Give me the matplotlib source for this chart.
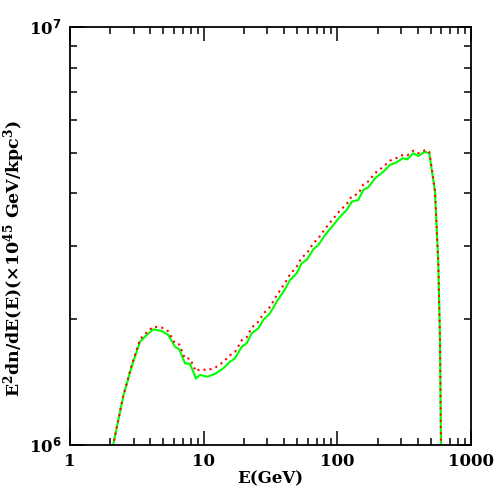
import matplotlib
matplotlib.use('Agg')
import matplotlib.pyplot as plt
from matplotlib.ticker import LogLocator, NullFormatter, FixedLocator, FixedFormatter

plt.rcParams['font.family'] = 'DejaVu Serif'
plt.rcParams['font.weight'] = 'bold'
plt.rcParams['mathtext.fontset'] = 'custom'
plt.rcParams['mathtext.rm'] = 'DejaVu Serif:bold'
plt.rcParams['mathtext.default'] = 'rm'

# energy grid (GeV)
energy = [2.09, 2.50, 2.89, 3.34, 3.75, 4.20, 4.85, 5.44, 6.10, 6.57, 7.25, 7.90,
          8.76, 9.39, 10.65, 12.15, 14.03, 15.74, 17.16, 19.26, 20.98, 22.87,
          25.63, 27.93, 31.35, 35.19, 40.60, 44.25, 49.66, 54.12, 58.98, 66.11,
          72.05, 80.85, 93.28, 104.7, 117.5, 128.1, 143.5, 156.4, 170.5, 191.3,
          220.8, 247.7, 278.0, 308.3, 333.7, 370.1, 403.4, 452.8, 487.5, 537.8,
          569.3, 586.2, 596.4]

# E^2 dn/dE in units of 1e45 GeV/kpc^3 (x1e6)
green = [0.99, 1.305, 1.539, 1.767, 1.833, 1.891, 1.874, 1.833, 1.718, 1.694,
         1.568, 1.563, 1.444, 1.471, 1.457, 1.479, 1.526, 1.582, 1.612, 1.718,
         1.751, 1.850, 1.902, 1.991, 2.066, 2.202, 2.358, 2.481, 2.575, 2.721,
         2.771, 2.939, 3.009, 3.178, 3.359, 3.517, 3.650, 3.820, 3.856, 4.074,
         4.135, 4.346, 4.507, 4.677, 4.746, 4.852, 4.826, 4.987, 4.914, 5.031,
         4.987, 4.036, 2.721, 1.783, 0.99]

red = [0.99, 1.31, 1.55, 1.79, 1.86, 1.92, 1.91, 1.87, 1.75, 1.74,
       1.61, 1.61, 1.50, 1.52, 1.51, 1.53, 1.58, 1.64, 1.67, 1.78,
       1.81, 1.91, 1.97, 2.06, 2.14, 2.28, 2.44, 2.56, 2.67, 2.81,
       2.87, 3.04, 3.12, 3.29, 3.48, 3.64, 3.77, 3.94, 3.99, 4.20,
       4.27, 4.47, 4.63, 4.79, 4.86, 4.94, 4.93, 5.06, 4.99, 5.07,
       5.03, 4.05, 2.72, 1.78, 0.99]

fig = plt.figure(figsize=(4.98, 4.98), dpi=100)
ax = fig.add_axes([70/498, 53/498, 401/498, 418/498])

ax.plot(energy, [v * 1e6 for v in green], color='#00ff00', lw=1.5, solid_joinstyle='miter')
ax.plot(energy, [v * 1e6 for v in red], color='red', lw=1.5, ls=(0, (1, 2)))

ax.set_xscale('log')
ax.set_yscale('log')
ax.set_xlim(1, 1000)
ax.set_ylim(1e6, 1e7)

for s in ax.spines.values():
    s.set_linewidth(1.3)

ax.xaxis.set_major_locator(FixedLocator([1, 10, 100, 1000]))
ax.xaxis.set_major_formatter(FixedFormatter(['1', '10', '100', '1000']))
ax.xaxis.set_minor_locator(LogLocator(base=10, subs=range(2, 10)))
ax.xaxis.set_minor_formatter(NullFormatter())
ax.yaxis.set_major_locator(FixedLocator([1e6, 1e7]))
ax.yaxis.set_major_formatter(FixedFormatter(['10$^{\\mathsf{6}}$', '10$^{\\mathsf{7}}$']))
ax.yaxis.set_minor_locator(LogLocator(base=10, subs=range(2, 10)))
ax.yaxis.set_minor_formatter(NullFormatter())

ax.tick_params(which='both', direction='in', top=True, right=True, width=1.1,
               labelsize=12, colors='black')
ax.tick_params(which='major', length=10, pad=6)
ax.tick_params(which='minor', length=5)

ax.set_xlabel('E(GeV)', fontsize=12, fontweight='bold', labelpad=0)
fig.text(14/498, 1 - 258/498, 'E$^{2}$dn/dE(E)(×10$^{45}$ GeV/kpc$^{3}$)',
         rotation=90, ha='center', va='center', fontsize=12.5, fontweight='bold')

fig.savefig('out.png', dpi=100)
